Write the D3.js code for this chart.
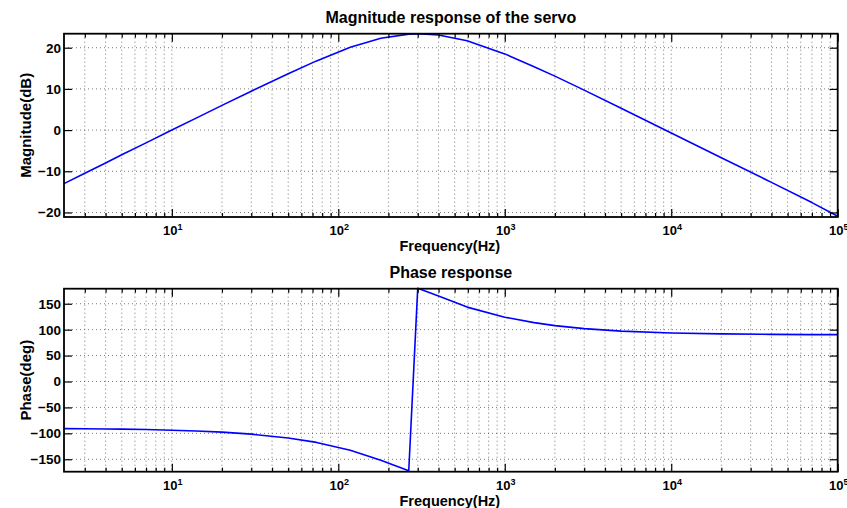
<!DOCTYPE html>
<html>
<head>
<meta charset="utf-8">
<script src="https://cdn.jsdelivr.net/npm/d3@7"></script>
<style>
  html, body { margin: 0; padding: 0; background: #fff; }
  svg { display: block; }
  text { font-family: "Liberation Sans", Arial, Helvetica, sans-serif; font-weight: bold; fill: #000; }
</style>
</head>
<body>
<svg id="chart" width="847" height="508"></svg>
<script>
// ---- Data ----
const frequencies = [2.25, 3, 4, 5, 7, 10, 14, 20, 30, 50, 74, 118, 180, 265, 300, 400, 594, 1000, 1500, 2000, 3000, 5000, 10000, 20000, 40000, 70000, 100000];
const magnitudeDb = [-13.0, -10.5, -8.0, -6.0, -3.1, 0.0, 2.9, 6.0, 9.45, 13.7, 16.8, 20.1, 22.3, 23.3, 23.4, 23.1, 21.7, 18.5, 15.4, 13.1, 9.7, 5.3, -0.7, -6.7, -12.7, -17.6, -20.9];
const phaseDeg = [-90.9, -91.2, -91.6, -91.9, -92.7, -93.9, -95.4, -97.7, -101.6, -109.1, -117.5, -132.5, -151.8, -172.2, 179.7, 165.0, 143.5, 124.0, 113.6, 107.8, 102.0, 97.2, 93.6, 91.8, 90.9, 90.5, 90.4];

const xMajorExponents = [1, 2, 3, 4, 5];
const magTicks = [-20, -10, 0, 10, 20];
const phaseTicks = [-150, -100, -50, 0, 50, 100, 150];

const titles = ["Magnitude response of the servo", "Phase response"];
const yLabels = ["Magnitude(dB)", "Phase(deg)"];
const xLabel = "Frequency(Hz)";

// ---- Layout ----
const svg = d3.select("#chart");
const left = 64, right = 837.7;
const panels = [
  { top: 33.7, bottom: 217, domain: [-21.1, 23.4], ticks: magTicks, values: magnitudeDb, title: titles[0], ylab: yLabels[0] },
  { top: 288.7, bottom: 471.7, domain: [-174, 179], ticks: phaseTicks, values: phaseDeg, title: titles[1], ylab: yLabels[1] }
];

const x = d3.scaleLog().domain([2.25, 1e5]).range([left, right]);

const majorX = xMajorExponents.map(e => Math.pow(10, e));
const minorX = [];
for (let e = 0; e <= 4; e++) {
  for (let m = 2; m <= 9; m++) {
    const v = m * Math.pow(10, e);
    if (v >= 2.25 && v <= 1e5) minorX.push(v);
  }
}
const allGridX = minorX.concat(majorX).filter(v => v >= 2.25 && v <= 1e5);

panels.forEach(p => {
  const y = d3.scaleLinear().domain(p.domain).range([p.bottom, p.top]);
  const g = svg.append("g");
  const h = p.bottom - p.top;
  const w = right - left;

  // grid
  const grid = g.append("g").attr("stroke", "#555").attr("stroke-width", 0.8).attr("stroke-dasharray", "1,3");
  grid.selectAll("line.vx").data(allGridX).join("line")
    .attr("x1", d => x(d)).attr("x2", d => x(d))
    .attr("y1", p.top).attr("y2", p.bottom);
  grid.selectAll("line.hy").data(p.ticks).join("line")
    .attr("x1", left).attr("x2", right)
    .attr("y1", d => y(d)).attr("y2", d => y(d));

  // line
  const line = d3.line().x((d, i) => x(frequencies[i])).y(d => y(d));
  g.append("path").datum(p.values)
    .attr("fill", "none").attr("stroke", "#0000ff").attr("stroke-width", 1.6)
    .attr("stroke-linejoin", "round")
    .attr("d", line);

  // axes (ticks inward)
  const axStyle = sel => {
    sel.select(".domain").remove();
    sel.selectAll(".tick line").attr("stroke", "#000").attr("stroke-width", 1.2);
    sel.selectAll(".tick text").remove();
  };
  g.append("g").attr("transform", `translate(0,${p.bottom})`)
    .call(d3.axisBottom(x).tickValues(majorX).tickSize(-8).tickFormat("")).call(axStyle);
  g.append("g").attr("transform", `translate(0,${p.bottom})`)
    .call(d3.axisBottom(x).tickValues(minorX).tickSize(-4).tickFormat("")).call(axStyle);
  g.append("g").attr("transform", `translate(0,${p.top})`)
    .call(d3.axisTop(x).tickValues(majorX).tickSize(-8).tickFormat("")).call(axStyle);
  g.append("g").attr("transform", `translate(0,${p.top})`)
    .call(d3.axisTop(x).tickValues(minorX).tickSize(-4).tickFormat("")).call(axStyle);
  g.append("g").attr("transform", `translate(${left},0)`)
    .call(d3.axisLeft(y).tickValues(p.ticks).tickSize(-8).tickFormat("")).call(axStyle);
  g.append("g").attr("transform", `translate(${right},0)`)
    .call(d3.axisRight(y).tickValues(p.ticks).tickSize(-8).tickFormat("")).call(axStyle);

  // frame
  g.append("rect").attr("x", left).attr("y", p.top).attr("width", w).attr("height", h)
    .attr("fill", "none").attr("stroke", "#000").attr("stroke-width", 1.8);

  // y tick labels
  g.selectAll("text.yt").data(p.ticks).join("text")
    .attr("x", left - 3).attr("y", d => y(d)).attr("dy", "0.36em")
    .attr("text-anchor", "end").attr("font-size", 13.5)
    .text(d => d < 0 ? "\u2212" + Math.abs(d) : String(d));

  // x tick labels with superscripts
  xMajorExponents.forEach(e => {
    const t = g.append("text")
      .attr("x", x(Math.pow(10, e)) + 1).attr("y", p.bottom + 18)
      .attr("text-anchor", "middle").attr("font-size", 13);
    t.append("tspan").text("10");
    t.append("tspan").attr("font-size", 9).attr("dy", -5).text(String(e));
  });

  // x axis label
  g.append("text").attr("x", (left + right) / 2 - 1).attr("y", p.bottom + 34)
    .attr("text-anchor", "middle").attr("font-size", 14.5).text(xLabel);

  // y axis label
  g.append("text")
    .attr("transform", `translate(31,${(p.top + p.bottom) / 2}) rotate(-90)`)
    .attr("text-anchor", "middle").attr("font-size", 15).text(p.ylab);

  // title
  g.append("text").attr("x", (left + right) / 2).attr("y", p.top - 11)
    .attr("text-anchor", "middle").attr("font-size", 16).text(p.title);
});
</script>
</body>
</html>
